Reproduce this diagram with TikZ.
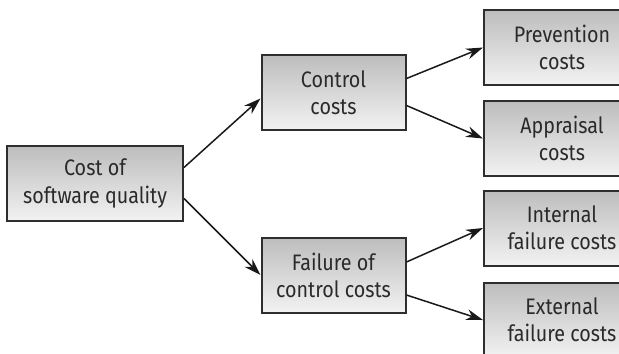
\documentclass[tikz,border=0pt]{standalone}
\usepackage{fontspec}
\setmainfont{Fira Sans}[FakeStretch=0.88]
\usepackage{xcolor}
\usepackage{tikz}
\usetikzlibrary{arrows.meta, calc, positioning}

\definecolor{boxline}{HTML}{2E2E2E}
\definecolor{boxtop}{HTML}{BDBDBD}
\definecolor{boxbottom}{HTML}{F2F2F2}
\definecolor{boxtext}{HTML}{2A2A2A}

\tikzset{
  costbox/.style={draw=boxline, line width=1pt, top color=boxtop, bottom color=boxbottom,
    text=boxtext, align=center, inner sep=0pt, minimum height=37.5pt,
    font=\fontsize{11.2}{13.6}\selectfont},
  costarrow/.style={draw=black!90, line width=0.75pt, -{Stealth[length=8.5pt,width=5.5pt]}}
}

\begin{document}
\begin{tikzpicture}[x=0.5pt, y=-0.5pt]
      \useasboundingbox (0,0) rectangle (619,353);

      % root
      \node[costbox, minimum width=88pt] (cost) at (95,183.5) {Cost of\\software quality};

      % middle level
      \node[costbox, minimum width=72pt] (control) at (333.5,92.5) {Control\\costs};
      \node[costbox, minimum width=72pt] (failure) at (333.5,275) {Failure of\\control costs};

      % right level
      \node[costbox, minimum width=78pt] (prevention) at (562,47.5) {Prevention\\costs};
      \node[costbox, minimum width=78pt] (appraisal) at (562,138.5) {Appraisal\\costs};
      \node[costbox, minimum width=78pt] (internal) at (562,228) {Internal\\failure costs};
      \node[costbox, minimum width=78pt] (external) at (562,320) {External\\failure costs};

      % arrows
      \draw[costarrow] ($(cost.east)+(0,-16)$) -- ($(control.west)+(0,6)$);
      \draw[costarrow] ($(cost.east)+(0,15)$) -- (failure.west);
      \draw[costarrow] ($(control.east)+(0,-14)$) -- (prevention.west);
      \draw[costarrow] ($(control.east)+(0,13)$) -- (appraisal.west);
      \draw[costarrow] ($(failure.east)+(0,-13)$) -- (internal.west);
      \draw[costarrow] ($(failure.east)+(0,20)$) -- (external.west);
    \end{tikzpicture}
\end{document}
